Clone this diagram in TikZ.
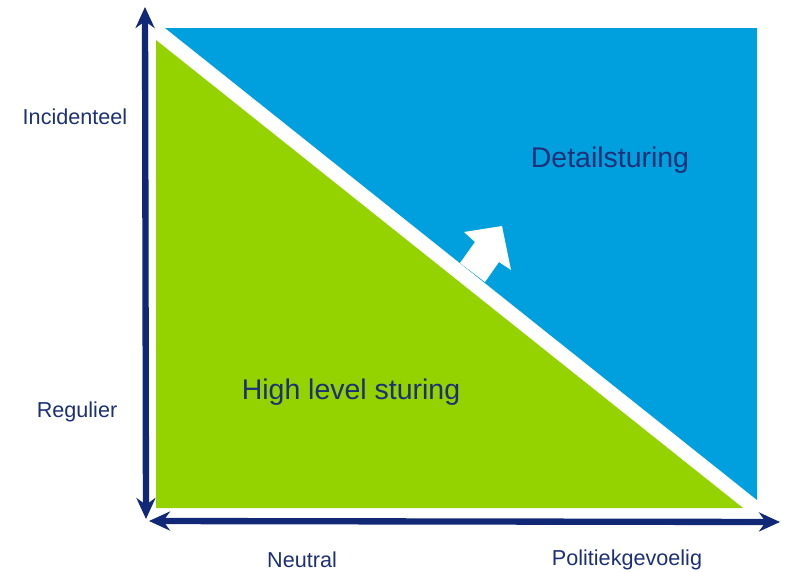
\documentclass[tikz,border=0pt]{standalone}
\usepackage{fontspec}
\setmainfont{Liberation Sans}
\usetikzlibrary{arrows.meta, positioning}
\definecolor{navy}{RGB}{16,40,118}
\definecolor{skyblue}{RGB}{0,160,222}
\definecolor{limegreen}{RGB}{148,210,0}
\definecolor{labelblue}{RGB}{28,48,120}
\begin{document}
\begin{tikzpicture}[x = 0.02cm, y = -0.02cm,
    axislabel/.style = {text = labelblue, font = \fontsize{12.3}{14}\selectfont, inner sep = 0pt},
    arealabel/.style = {text = labelblue, font = \fontsize{16.2}{19}\selectfont, inner sep = 0pt},
    axis/.style = {navy, line width = 3.6pt, {Stealth[length = 0.42cm, width = 0.38cm]}-{Stealth[length = 0.42cm, width = 0.38cm]}}]
    \useasboundingbox (0,0) rectangle (789,572);
    % vlakken
    \fill[skyblue] (165,28) -- (757,28) -- (757,500) -- cycle;
    \fill[limegreen] (156,40) -- (156,508) -- (743,508) -- cycle;
    % pijl omhoog
    \fill[white] (460,263) -- (475,242) -- (464,232) -- (502,226) -- (511,270) -- (499,262) -- (485,282) -- cycle;
    % assen
    \coordinate (top) at (145,7);
    \coordinate (corner) at (146,521);
    \coordinate (right) at (780,522);
    \draw[axis] (top) -- (corner |- 0,519);
    \draw[axis] (corner -| 149,0) -- (right);
    % labels
    \node[axislabel] (incid) at (75,117) {Incidenteel};
    \node[axislabel] (regul) at (77,412) {Regulier};
    \node[axislabel] (neutr) at (302,560) {Neutral};
    \node[axislabel] (polit) at (627,560) {Politiekgevoelig};
    \node[arealabel] (detail) at (610,160) {Detailsturing};
    \node[arealabel] (high) at (351,392) {High level sturing};
\end{tikzpicture}
\end{document}
